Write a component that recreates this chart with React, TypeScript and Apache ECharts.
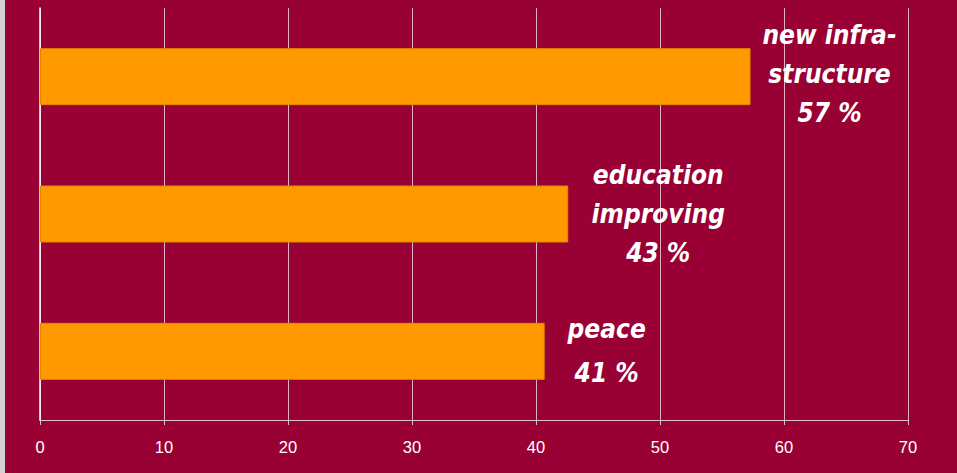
import React, { useEffect, useRef } from "react";
import * as echarts from "echarts";

const categories = ["new infra-\nstructure", "education\nimproving", "peace"];
const values = [57.3, 42.6, 40.7];
const percentLabels = ["57 %", "43 %", "41 %"];
const xTicks = [0, 10, 20, 30, 40, 50, 60, 70];

const labelOffsets = [
  [74, -3],
  [85, 0],
  [57, 0],
];
const labelLineHeights = [39, 39, 44];

export default function App() {
  const ref = useRef<HTMLDivElement>(null);
  useEffect(() => {
    document.body.style.margin = "0";
    const chart = echarts.init(ref.current!, null, { renderer: "svg" });
    chart.setOption({
      animation: false,
      backgroundColor: "#990033",
      graphic: [
        { type: "rect", left: 0, top: 0, shape: { width: 5, height: 473 }, style: { fill: "#d2d2d2" } },
      ],
      grid: { left: 40, right: 49, top: 8, bottom: 53 },
      xAxis: {
        type: "value",
        min: xTicks[0],
        max: xTicks[xTicks.length - 1],
        interval: 10,
        axisLine: { show: true, lineStyle: { color: "rgba(255,255,255,0.75)", width: 1 } },
        axisTick: { show: true, length: 5, lineStyle: { color: "rgba(255,255,255,0.75)" } },
        axisLabel: { color: "#ffffff", fontSize: 16.5, fontFamily: "'Liberation Sans', Arial, sans-serif", margin: 18 },
        splitLine: { show: true, lineStyle: { color: "rgba(255,255,255,0.7)", width: 1 } },
      },
      yAxis: {
        type: "category",
        data: categories,
        inverse: true,
        axisLine: { show: true, lineStyle: { color: "#ffffff", width: 1.5 } },
        axisTick: { show: false },
        axisLabel: { show: false },
      },
      series: [
        {
          type: "bar",
          barWidth: 57,
          data: values.map((v, i) => ({
            value: v,
            label: {
              show: true,
              position: "right",
              align: "center",
              verticalAlign: "middle",
              offset: labelOffsets[i],
              formatter: () => categories[i] + "\n" + percentLabels[i],
              color: "#ffffff",
              fontSize: 26,
              fontStyle: "italic",
              fontWeight: "bold",
              fontFamily: "'DejaVu Sans Condensed', 'DejaVu Sans', sans-serif",
              lineHeight: labelLineHeights[i],
            },
          })),
          itemStyle: { color: "#ff9900", borderColor: "#e08800", borderWidth: 1 },
        },
      ],
    });
    return () => chart.dispose();
  }, []);
  return (
    <div
      ref={ref}
      style={{ position: "fixed", left: 0, top: 0, width: 957, height: 473 }}
    />
  );
}
